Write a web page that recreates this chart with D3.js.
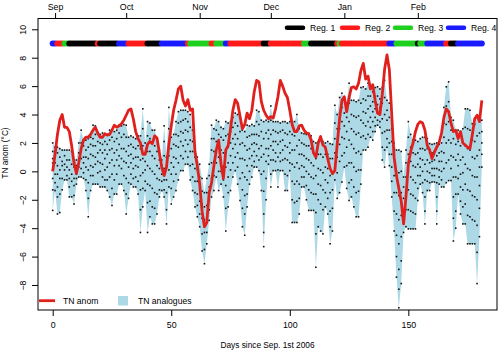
<!DOCTYPE html>
<html>
<head>
<meta charset="utf-8">
<script src="https://cdn.jsdelivr.net/npm/d3@7"></script>
<style>
  html, body { margin: 0; padding: 0; background: #fff; }
  svg { display: block; font-family: "Liberation Sans", Arial, sans-serif; }
</style>
</head>
<body>
<svg id="chart" width="500" height="350"></svg>
<script>
// Daily minimum-temperature anomaly (°C), days 0..181 since 1 Sep 2006
const tnAnom = [
  0.0, 1.2, 2.6, 3.6, 4.0, 3.1, 3.1, 2.8, 1.8, 0.6,
  -0.15, 0.6, 1.6, 2.2, 2.4, 2.4, 2.6, 2.9, 3.1, 2.7,
  2.4, 2.4, 2.65, 2.55, 2.6, 2.9, 3.25, 3.1, 3.2, 3.35,
  3.6, 3.95, 4.3, 4.4, 3.7, 2.8, 2.3, 2.0, 1.2, 1.2,
  1.9, 2.1, 1.95, 2.5, 2.35, 1.3, 0.3, -0.3, 0.3, 1.9,
  3.2, 4.3, 5.0, 5.8, 6.0, 5.0, 4.6, 5.05, 4.3, 4.4,
  1.4, 0.4, -0.9, -2.8, -3.9, -3.6, -1.5, -0.8, 0.4, 1.5,
  2.2, 0.5, -0.5, 1.5, 1.8, 3.0, 4.3, 5.05, 4.8, 3.9,
  3.0, 3.3, 4.1, 3.7, 4.3, 5.6, 6.4, 6.3, 4.9, 4.3,
  3.95, 3.7, 3.85, 3.75, 4.4, 5.25, 6.4, 6.0, 5.5, 5.2,
  4.3, 3.3, 2.8, 2.8, 3.2, 3.25, 2.9, 2.7, 2.65, 2.2,
  1.3, 1.0, 2.0, 2.45, 1.85, 1.7, 0.9, 0.2, -0.15, 0.05,
  1.9, 3.7, 5.0, 5.25, 4.2, 5.2, 5.9, 5.95, 5.8, 6.2,
  7.1, 7.6, 6.5, 6.7, 5.8, 6.1, 5.0, 4.1, 4.0, 5.4,
  7.2, 8.2, 7.15, 4.0, 1.0, -0.3, -1.2, -2.1, -3.7, -1.8,
  0.5, 1.4, 2.0, 2.8, 3.3, 3.5, 3.4, 2.9, 1.8, 1.5,
  0.9, 1.35, 1.7, 2.05, 2.7, 3.8, 4.4, 4.2, 3.4, 2.8,
  2.9, 2.3, 2.8, 2.0, 1.85, 1.7, 1.6, 2.6, 3.7, 3.95,
  3.5, 5.0
];

// Anomalies of the analogue days, one list per day
const analogues = [
  [2.0, 1.4, 0.9, 0.6, 0.1, -0.5, -1.3, -2.75], [1.7, 1.0, 0.6, -0.2, -0.8, -1.35], [1.7, 1.3, 0.4, -0.2, -1.1, -1.8, -3.0],
  [1.6, 1.0, 0.1, -0.5, -1.6, -2.9], [1.5, 0.7, 0.4, -0.5, -1.3], [1.5, 1.1, 0.5, 0.1, -0.6],
  [1.5, 0.8, 0.3, -0.3, -0.6], [1.5, 0.8, 0.1, -0.5, -1.1, -1.8], [1.4, 0.5, -0.2, -0.7, -1.8],
  [0.8, 0.3, -0.5, -1.0, -1.7, -2.3], [0.8, 0.4, -0.2, -0.5, -0.9], [2.0, 1.3, 0.9, 0.3, -0.4],
  [2.9, 2.0, 1.6, 0.9, 0.2, -0.4], [2.2, 1.8, 1.0, 0.6, -0.1, -0.5], [2.2, 1.5, 1.0, 0.3, -0.6, -1.35],
  [2.3, 1.7, 0.9, 0.1, -0.8, -1.9, -3.2], [2.4, 1.9, 1.2, 0.4, -0.3, -1.35], [3.25, 2.3, 1.8, 1.1, 0.3, -0.3, -0.9],
  [3.2, 2.6, 1.8, 1.0, 0.5, -0.9], [2.65, 2.1, 1.3, 0.7, -0.1, -0.9], [2.6, 2.0, 1.5, 0.6, 0.0, -1.1],
  [2.7, 1.9, 1.3, 0.5, -0.4, -1.1], [2.65, 2.1, 1.5, 0.9, 0.1, -0.6, -1.1], [2.6, 1.9, 1.2, 0.3, -0.6, -1.35],
  [2.9, 2.2, 1.5, 0.6, -0.4, -1.8], [2.9, 2.4, 1.6, 0.8, -0.2, -1.2, -2.4], [2.8, 2.1, 1.3, 0.4, -0.6, -1.6],
  [2.9, 2.3, 1.5, 0.8, -0.2, -1.6], [3.25, 2.7, 1.9, 1.1, 0.4, -0.9], [3.2, 2.4, 1.6, 0.9, 0.2, -0.9],
  [3.3, 2.6, 1.6, 0.7, -0.3, -1.35], [3.25, 2.4, 1.4, 0.6, -0.5, -1.6, -3.0], [2.4, 1.8, 1.1, 0.3, -0.8, -1.9],
  [2.5, 1.9, 1.2, 0.6, -0.2, -0.9], [2.4, 1.7, 0.9, 0.2, -0.5, -1.1], [2.3, 1.6, 1.0, 0.4, -0.4, -1.1],
  [2.5, 1.8, 1.0, 0.3, -0.7, -1.6], [2.5, 1.6, 0.8, -0.3, -1.3, -2.7, -4.3], [4.4, 3.0, 1.8, 0.9, -0.1, -1.2, -2.5],
  [2.0, 1.3, 0.7, 0.1, -0.7, -1.35], [3.5, 2.5, 1.4, 0.4, -0.9, -2.2, -4.3], [3.4, 2.3, 1.4, 0.2, -1.0, -2.1, -3.2],
  [2.9, 2.0, 1.1, 0.0, -1.2, -2.5, -3.7], [2.9, 1.8, 0.9, -0.2, -1.5, -2.6, -3.7], [2.3, 1.4, 0.4, -0.5, -1.6, -3.0],
  [1.5, 0.8, 0.2, -0.6, -1.3, -1.8], [0.8, 0.4, -0.2, -0.7, -1.35], [3.2, 2.1, 1.1, 0.2, -0.6, -1.3, -1.8],
  [1.0, 0.3, -0.6, -1.5, -2.7, -3.7], [4.5, 3.0, 2.0, 1.1, 0.1, -1.1], [2.4, 1.6, 0.6, -0.2, -1.2, -2.3],
  [2.6, 1.9, 1.0, 0.3, -0.7, -1.8], [3.5, 2.6, 1.8, 0.9, -0.2, -1.35], [4.2, 3.4, 2.5, 1.7, 0.6, -0.6],
  [4.3, 3.5, 2.8, 2.1, 1.1, 0.05], [4.3, 3.6, 2.7, 1.8, 0.9, 0.05], [4.3, 3.7, 2.9, 2.2, 1.4, 0.5],
  [4.2, 3.5, 2.8, 1.9, 1.0, 0.5], [4.0, 3.1, 2.2, 1.4, 0.4, -0.6], [2.9, 2.1, 1.4, 0.5, -0.4, -1.35],
  [1.7, 1.0, 0.2, -0.7, -1.5, -2.5], [1.0, 0.1, -0.7, -1.6, -2.4, -3.2], [0.5, -0.4, -1.3, -2.1, -3.0, -3.9],
  [-0.5, -1.4, -2.3, -3.3, -4.4, -5.6], [-1.5, -2.5, -3.4, -4.3, -5.5, -6.5], [-0.5, -1.5, -2.4, -3.4, -4.3, -5.1],
  [0.5, -0.3, -1.1, -2.0, -2.7, -3.45], [3.25, 2.3, 1.5, 0.6, -0.5, -1.8], [3.0, 2.3, 1.4, 0.7, -0.3, -1.35],
  [3.6, 2.9, 2.1, 1.3, 0.6, -0.4], [3.5, 2.6, 1.9, 1.0, 0.0, -1.35], [3.1, 2.4, 1.5, 0.8, 0.0, -0.9],
  [3.0, 2.2, 1.3, 0.4, -0.6, -1.8], [3.5, 2.5, 1.3, 0.3, -1.0, -2.6, -4.2], [3.4, 2.6, 1.7, 0.6, -0.4, -1.5, -2.5],
  [3.5, 2.8, 2.0, 1.1, 0.1, -1.35], [3.8, 3.1, 2.3, 1.6, 0.6, -0.4], [4.1, 3.4, 2.6, 1.9, 1.0, 0.05],
  [4.0, 3.2, 2.3, 1.3, 0.3, -0.9], [3.8, 2.8, 1.9, 0.9, -0.5, -2.05], [2.9, 2.0, 0.9, -0.1, -1.3, -2.6, -3.9],
  [2.8, 1.8, 0.8, -0.4, -1.7, -3.0, -4.5], [3.25, 2.4, 1.5, 0.4, -0.6, -1.6, -2.5], [3.2, 2.5, 1.6, 0.9, 0.0, -0.9],
  [3.3, 2.6, 1.9, 1.1, 0.4, -0.4], [3.2, 2.6, 2.0, 1.4, 0.7, 0.3], [4.3, 3.5, 2.6, 1.9, 1.1, 0.3],
  [4.2, 3.3, 2.5, 1.6, 0.8, 0.05], [3.6, 2.8, 1.8, 1.0, -0.2, -1.35], [3.5, 2.3, 1.2, 0.0, -1.4, -3.0, -4.3, -5.3],
  [3.6, 2.7, 1.6, 0.7, -0.5, -2.0], [3.5, 2.9, 2.3, 1.6, 1.1, 0.5], [4.6, 3.6, 2.6, 1.8, 0.8, -0.2, -1.1],
  [3.5, 2.9, 2.1, 1.5, 0.8, 0.05], [3.5, 2.8, 2.1, 1.3, 0.7, 0.05], [3.5, 2.7, 1.9, 1.0, 0.1, -1.1],
  [3.4, 2.8, 2.1, 1.3, 0.7, 0.05], [3.5, 2.9, 2.2, 1.5, 0.8, 0.05], [3.5, 2.7, 1.8, 0.9, -0.2, -1.35],
  [3.4, 2.6, 1.7, 0.8, -0.3, -1.35], [3.5, 2.8, 2.0, 1.3, 0.6, 0.05], [3.5, 2.6, 1.5, 0.5, -0.7, -2.0, -3.6],
  [3.5, 2.5, 1.5, 0.3, -0.9, -2.2, -3.6], [4.0, 2.9, 1.8, 0.6, -0.7, -2.1, -3.6], [3.0, 2.2, 1.2, 0.2, -0.9, -1.9, -3.0],
  [2.7, 2.0, 1.2, 0.4, -0.4, -1.1], [2.65, 1.9, 1.1, 0.3, -0.4, -1.1], [2.6, 1.8, 0.9, 0.0, -1.0, -2.0],
  [2.65, 1.8, 0.8, -0.2, -1.3, -2.75], [2.5, 1.6, 0.6, -0.4, -1.5, -2.75], [2.1, 1.3, 0.4, -0.5, -1.6, -2.75],
  [2.0, 0.9, -0.3, -1.6, -2.9, -4.4, -6.75], [2.1, 1.2, 0.2, -0.9, -2.0, -3.9], [2.2, 1.2, 0.1, -1.0, -2.3, -4.2],
  [2.1, 1.0, -0.1, -1.3, -2.7, -4.4], [2.0, 1.2, 0.3, -0.6, -1.5, -2.5], [2.1, 1.2, 0.2, -0.8, -1.9, -3.0],
  [1.95, 0.9, -0.3, -1.5, -2.8, -3.9, -5.1], [1.9, 0.9, -0.2, -1.3, -2.6, -4.2], [4.65, 3.4, 2.3, 1.3, 0.3, -0.6],
  [4.0, 3.0, 2.0, 1.0, -0.1, -1.9], [5.2, 4.1, 3.0, 1.9, 0.7, -1.5], [5.5, 4.5, 3.5, 2.4, 1.1, -0.75],
  [5.0, 4.1, 3.2, 2.3, 1.3, 0.3], [4.8, 3.8, 2.8, 1.7, 0.4, -1.2], [6.2, 4.8, 3.5, 2.2, 0.6, -0.8, -2.05],
  [5.0, 4.0, 3.0, 1.9, 0.6, -0.6, -1.8], [5.0, 3.9, 2.8, 1.6, 0.3, -1.1, -2.5], [4.9, 3.8, 2.6, 1.3, 0.0, -1.5, -3.2],
  [5.0, 3.9, 2.7, 1.4, 0.1, -1.4, -3.2], [5.9, 4.8, 3.6, 2.4, 1.2, 0.1, -0.9], [5.95, 5.1, 4.2, 3.4, 2.5, 1.5],
  [5.8, 5.0, 4.1, 3.2, 2.3, 1.5], [6.2, 5.3, 4.4, 3.5, 2.6, 1.7], [6.1, 5.3, 4.6, 3.8, 3.1, 2.4],
  [5.6, 4.9, 4.2, 3.5, 2.8, 2.2], [5.9, 5.1, 4.4, 3.8, 3.2, 2.8], [5.95, 5.3, 4.7, 4.1, 3.6, 3.25],
  [5.8, 5.1, 4.5, 4.0, 3.5, 3.1], [5.9, 4.8, 3.7, 2.7, 1.7, 0.8], [6.4, 5.2, 4.0, 2.8, 1.5, 0.3],
  [5.0, 4.3, 3.6, 2.9, 2.3, 1.7], [4.8, 3.8, 2.9, 2.0, 1.2, 0.4], [3.0, 2.1, 1.2, 0.3, -0.7, -1.8],
  [2.0, 0.9, -0.3, -1.5, -2.8, -4.2], [1.5, 0.0, -1.5, -3.0, -4.5, -6.0, -7.45], [1.5, -0.1, -1.7, -3.4, -5.1, -6.9, -8.3, -9.6],
  [1.4, 0.0, -1.5, -3.1, -4.6, -6.3, -7.9], [-0.4, -1.1, -1.9, -2.7, -3.5, -4.3], [1.5, 0.6, -0.4, -1.5, -2.7, -3.9],
  [3.5, 2.4, 1.2, 0.0, -1.3, -2.7, -4.05], [2.6, 1.7, 0.7, -0.4, -1.6, -2.8, -4.05], [2.2, 1.3, 0.4, -0.6, -1.7, -2.9, -4.05],
  [2.2, 1.2, 0.3, -0.8, -1.9, -3.0, -4.05], [2.1, 1.3, 0.5, -0.3, -1.2, -2.05], [2.3, 1.6, 0.9, 0.3, -0.3, -0.9],
  [2.4, 1.6, 0.8, 0.0, -0.8, -1.5], [2.4, 1.5, 0.5, -0.6, -1.8, -2.8, -3.7], [2.3, 1.6, 0.8, 0.0, -0.7, -1.35],
  [1.95, 1.3, 0.6, -0.1, -0.8, -1.35], [1.9, 1.3, 0.7, 0.2, -0.3, -0.75], [1.95, 1.4, 0.8, 0.2, -0.3, -0.75],
  [2.0, 1.1, 0.2, -0.8, -1.8, -2.8, -3.7], [1.9, 1.3, 0.7, 0.1, -0.4, -0.9], [2.0, 1.4, 0.7, 0.0, -0.6, -1.1],
  [4.5, 3.4, 2.4, 1.3, 0.2, -1.1], [5.95, 4.6, 3.3, 2.0, 0.6, -0.8], [6.3, 4.9, 3.5, 2.2, 0.8, -0.65],
  [3.8, 2.9, 2.0, 1.1, 0.2, -0.65], [3.6, 2.3, 1.0, -0.4, -1.8, -3.3, -4.9], [2.9, 1.9, 0.8, -0.4, -1.6, -2.8, -4.0],
  [2.9, 2.1, 1.2, 0.4, -0.5, -1.6], [2.8, 1.8, 0.8, -0.2, -1.1, -2.1, -3.0], [3.0, 2.0, 1.0, -0.1, -1.3, -2.5, -3.7],
  [4.4, 3.1, 1.8, 0.5, -0.9, -2.3, -3.7], [4.4, 3.0, 1.6, 0.2, -1.3, -3.1, -5.1], [4.3, 2.9, 1.5, 0.1, -1.4, -3.2, -5.1],
  [3.35, 2.2, 1.0, -0.3, -1.7, -3.4, -5.1], [3.3, 2.1, 0.9, -0.4, -1.8, -3.5, -5.1], [3.8, 2.5, 1.1, -0.4, -2.0, -3.8, -5.7, -7.9],
  [3.8, 2.7, 1.5, 0.3, -1.0, -2.6, -4.6], [3.6, 2.8, 2.0, 1.2, 0.3]
];

// Weather regime of each day (1..4)
const regimes = [
  4,4,2,2,2,3,3,1,1,1, 1,1,1,1,1,1,1,1,1,2, 1,1,1,1,1,1,1,1,4,4,
  4,4,2,2,2,2,2,2,2,2, 1,1,1,1,1,1,4,4,4,4, 4,4,4,4,4,4,4,2,3,3,
  3,3,3,3,3,3,3,2,2,3, 3,3,3,4,4,2,2,2,2,2, 2,2,2,2,2,2,2,2,2,1,
  1,1,2,2,2,2,2,2,2,2, 2,2,2,2,2,2,3,3,3,1, 1,1,1,1,1,1,1,1,1,1,
  2,3,2,2,2,2,2,2,2,2, 2,2,2,2,2,2,2,2,2,2, 2,2,4,4,4,3,3,3,3,3,
  3,3,3,3,1,3,3,3,4,4, 4,4,4,4,4,4,2,2,1,1, 1,4,4,4,4,4,4,4,4,4,
  4,4
];
const regimeNames = ["Reg. 1", "Reg. 2", "Reg. 3", "Reg. 4"];
const regimeColors = ["#000000", "#ff1a1a", "#1fd01f", "#1a1aff"];

const monthLabels = ["Sep", "Oct", "Nov", "Dec", "Jan", "Feb"];
const monthDays = [1, 31, 62, 92, 123, 154];
const dayTicks = [0, 50, 100, 150];
const anomTicks = [-8, -6, -4, -2, 0, 2, 4, 6, 8, 10];
const regimeLevel = 9;

const svg = d3.select("#chart");
const box = { left: 38, right: 497, top: 18.5, bottom: 310 };

const x = d3.scaleLinear().domain([-6.2, 187.4]).range([box.left, box.right]);
const y = d3.scaleLinear().domain([-9.76, 10.76]).range([box.bottom, box.top]);

const rows = tnAnom.map((v, i) => ({
  day: i, anom: v, vals: analogues[i],
  lo: d3.min(analogues[i]), hi: d3.max(analogues[i]), reg: regimes[i]
}));

const plot = svg.append("g");

// envelope of analogue anomalies
plot.append("path")
  .datum(rows)
  .attr("fill", "#add8e6")
  .attr("d", d3.area().x(d => x(d.day)).y0(d => y(d.lo)).y1(d => y(d.hi)));

// individual analogue values
plot.append("g").selectAll("rect")
  .data(rows.flatMap(r => r.vals.map(v => ({ day: r.day, v }))))
  .join("rect")
  .attr("x", d => x(d.day) - 0.8).attr("y", d => y(d.v) - 0.8)
  .attr("width", 1.6).attr("height", 1.6)
  .attr("fill", "#111");

// observed anomaly
plot.append("path")
  .datum(rows)
  .attr("fill", "none")
  .attr("stroke", "#e0201c")
  .attr("stroke-width", 2.8)
  .attr("stroke-linejoin", "round")
  .attr("d", d3.line().x(d => x(d.day)).y(d => y(d.anom)));

// regime strip
plot.append("g").selectAll("circle")
  .data(rows)
  .join("circle")
  .attr("cx", d => x(d.day)).attr("cy", y(regimeLevel)).attr("r", 3)
  .attr("fill", d => regimeColors[d.reg - 1]);

// regime legend (top right)
const regLeg = svg.append("g").attr("font-size", 8.6);
const regX = [287, 342, 395, 448];
regimeNames.forEach((name, i) => {
  regLeg.append("line")
    .attr("x1", regX[i]).attr("x2", regX[i] + 16)
    .attr("y1", 27.7).attr("y2", 27.7)
    .attr("stroke", regimeColors[i]).attr("stroke-width", 4.5)
    .attr("stroke-linecap", "round");
  regLeg.append("text")
    .attr("x", regX[i] + 23).attr("y", 30.8)
    .text(name);
});

// series legend (bottom left)
const serLeg = svg.append("g").attr("font-size", 8.6);
serLeg.append("line")
  .attr("x1", 39).attr("x2", 55).attr("y1", 300.7).attr("y2", 300.7)
  .attr("stroke", "#e0201c").attr("stroke-width", 2.8);
serLeg.append("text").attr("x", 63).attr("y", 303.8).text("TN anom");
serLeg.append("rect")
  .attr("x", 118).attr("y", 296).attr("width", 10).attr("height", 9.5)
  .attr("fill", "#add8e6");
serLeg.append("text").attr("x", 138).attr("y", 303.8).text("TN analogues");

// axes
const axisStyle = g => {
  g.selectAll(".domain").remove();
  g.selectAll(".tick line").attr("stroke", "#000");
  g.selectAll(".tick text").attr("fill", "#000")
    .attr("font-family", "'Liberation Sans', Arial, sans-serif").attr("font-size", 8.8);
};

svg.append("g")
  .attr("transform", `translate(0,${box.bottom})`)
  .call(d3.axisBottom(x).tickValues(dayTicks).tickSize(6).tickPadding(6))
  .call(axisStyle);

svg.append("g")
  .attr("transform", `translate(0,${box.top})`)
  .call(d3.axisTop(x).tickValues(monthDays).tickFormat((d, i) => monthLabels[i]).tickSize(5.5).tickPadding(3))
  .call(axisStyle);

const yAxis = svg.append("g")
  .attr("transform", `translate(${box.left},0)`)
  .call(d3.axisLeft(y).tickValues(anomTicks).tickSize(6).tickPadding(4))
  .call(axisStyle);
yAxis.selectAll(".tick text")
  .attr("text-anchor", "middle")
  .attr("x", null).attr("dy", null)
  .attr("transform", "translate(-12.5,0) rotate(-90)");

// frame
svg.append("rect")
  .attr("x", box.left).attr("y", box.top)
  .attr("width", box.right - box.left).attr("height", box.bottom - box.top)
  .attr("fill", "none").attr("stroke", "#000").attr("stroke-width", 1);

// axis titles
svg.append("text")
  .attr("x", (box.left + box.right) / 2).attr("y", 348)
  .attr("text-anchor", "middle").attr("font-size", 8.3)
  .text("Days since Sep. 1st 2006");

svg.append("text")
  .attr("transform", `translate(7.8,153) rotate(-90)`)
  .attr("text-anchor", "middle").attr("font-size", 8.3)
  .text("TN anom (°C)");
</script>
</body>
</html>
